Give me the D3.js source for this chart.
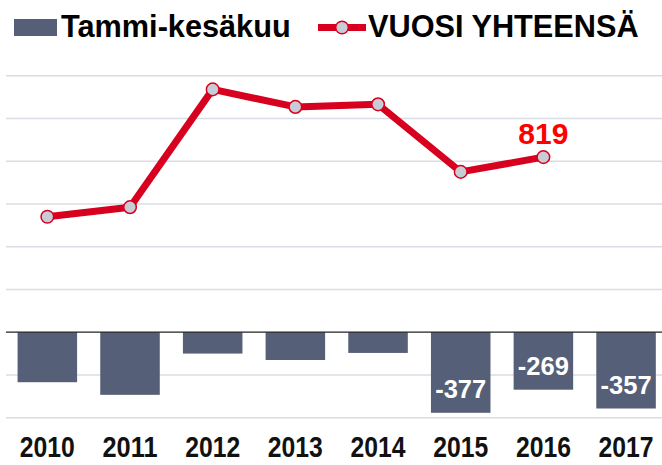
<!DOCTYPE html>
<html>
<head>
<meta charset="utf-8">
<script src="https://cdn.jsdelivr.net/npm/d3@7"></script>
<style>
  body { margin: 0; background: #fff; }
  svg { display: block; }
  text { font-family: "Liberation Sans", Arial, sans-serif; font-weight: bold; }
</style>
</head>
<body>
<div id="chart"></div>
<script>
// ---- data ----
var years      = ["2010", "2011", "2012", "2013", "2014", "2015", "2016", "2017"];
var halfYear   = [-234, -293, -100, -130, -97, -377, -269, -357];   // Tammi-kesäkuu
var lineYears  = ["2010", "2011", "2012", "2013", "2014", "2015", "2016"];
var fullYear   = [540, 585, 1136, 1054, 1066, 750, 819];            // VUOSI YHTEENSÄ
var barLabelYears  = ["2015", "2016", "2017"];
var lineLabelYears = ["2016"];
var gridTicks  = [-400, -200, 0, 200, 400, 600, 800, 1000, 1200];

var width = 662, height = 465;
var barColor = "#565f78", red = "#d7001e";

var svg = d3.select("#chart").append("svg")
    .attr("width", width)
    .attr("height", height);

var x = d3.scaleBand()
    .domain(years)
    .range([6, 667.4])
    .paddingInner(0.28)
    .paddingOuter(0.14);

var y = d3.scaleLinear()
    .domain([-400, 1200])
    .range([417.7, 75.7]);

// gridlines
svg.append("g")
  .selectAll("line")
  .data(gridTicks.filter(function(d) { return d !== 0; }))
  .enter().append("line")
    .attr("x1", 6).attr("x2", width)
    .attr("y1", function(d) { return y(d); })
    .attr("y2", function(d) { return y(d); })
    .attr("stroke", "#d8dce3")
    .attr("stroke-width", 1.5);

// bars
var bars = years.map(function(yr, i) { return { year: yr, value: halfYear[i] }; });
svg.append("g")
  .selectAll("rect")
  .data(bars)
  .enter().append("rect")
    .attr("x", function(d) { return x(d.year); })
    .attr("width", x.bandwidth())
    .attr("y", y(0))
    .attr("height", function(d) { return y(d.value) - y(0); })
    .attr("fill", barColor);

svg.append("g")
  .selectAll("text")
  .data(bars.filter(function(d) { return barLabelYears.indexOf(d.year) >= 0; }))
  .enter().append("text")
    .attr("x", function(d) { return x(d.year) + x.bandwidth() / 2; })
    .attr("y", function(d) { return y(d.value) - 15; })
    .attr("text-anchor", "middle")
    .attr("fill", "#fff")
    .style("font-size", "25.5px")
    .text(function(d) { return d.value; });

// zero line
svg.append("line")
    .attr("x1", 6).attr("x2", width)
    .attr("y1", y(0)).attr("y2", y(0))
    .attr("stroke", "#222")
    .attr("stroke-width", 1.2);

// line series
var pts = lineYears.map(function(yr, i) { return { year: yr, value: fullYear[i] }; });
var line = d3.line()
    .x(function(d) { return x(d.year) + x.bandwidth() / 2; })
    .y(function(d) { return y(d.value); });

svg.append("path")
    .datum(pts)
    .attr("d", line)
    .attr("fill", "none")
    .attr("stroke", red)
    .attr("stroke-width", 7)
    .attr("stroke-linejoin", "round");

svg.append("g")
  .selectAll("circle")
  .data(pts)
  .enter().append("circle")
    .attr("cx", function(d) { return x(d.year) + x.bandwidth() / 2; })
    .attr("cy", function(d) { return y(d.value); })
    .attr("r", 6.3)
    .attr("fill", "#c8ccd6")
    .attr("stroke", red)
    .attr("stroke-width", 1.5);

svg.append("g")
  .selectAll("text")
  .data(pts.filter(function(d) { return lineLabelYears.indexOf(d.year) >= 0; }))
  .enter().append("text")
    .attr("x", function(d) { return x(d.year) + x.bandwidth() / 2; })
    .attr("y", function(d) { return y(d.value) - 13; })
    .attr("text-anchor", "middle")
    .attr("fill", "#ff0000")
    .style("font-size", "30px")
    .text(function(d) { return d.value; });

// x axis labels (condensed face)
var xAxis = svg.append("g")
    .attr("transform", "translate(0,456.5)")
    .call(d3.axisBottom(x).tickSize(0).tickPadding(0));
xAxis.select(".domain").remove();
xAxis.selectAll("text")
    .attr("dy", 0)
    .attr("y", 0)
    .attr("fill", "#111")
    .attr("textLength", 55)
    .attr("lengthAdjust", "spacingAndGlyphs")
    .style("font-weight", "bold")
    .style("font-size", "30px");

// legend
var legend = svg.append("g");
legend.append("rect")
    .attr("x", 14).attr("y", 19)
    .attr("width", 43).attr("height", 17)
    .attr("fill", barColor);
legend.append("text")
    .attr("x", 61).attr("y", 36.5)
    .attr("fill", "#000")
    .style("font-size", "30.7px")
    .text("Tammi-kesäkuu");
legend.append("line")
    .attr("x1", 318).attr("x2", 366)
    .attr("y1", 27.5).attr("y2", 27.5)
    .attr("stroke", red)
    .attr("stroke-width", 7);
legend.append("circle")
    .attr("cx", 342).attr("cy", 27.5)
    .attr("r", 6.3)
    .attr("fill", "#c8ccd6")
    .attr("stroke", red)
    .attr("stroke-width", 1.5);
legend.append("text")
    .attr("x", 368).attr("y", 36.5)
    .attr("fill", "#000")
    .style("font-size", "30.7px")
    .text("VUOSI YHTEENSÄ");
</script>
</body>
</html>
